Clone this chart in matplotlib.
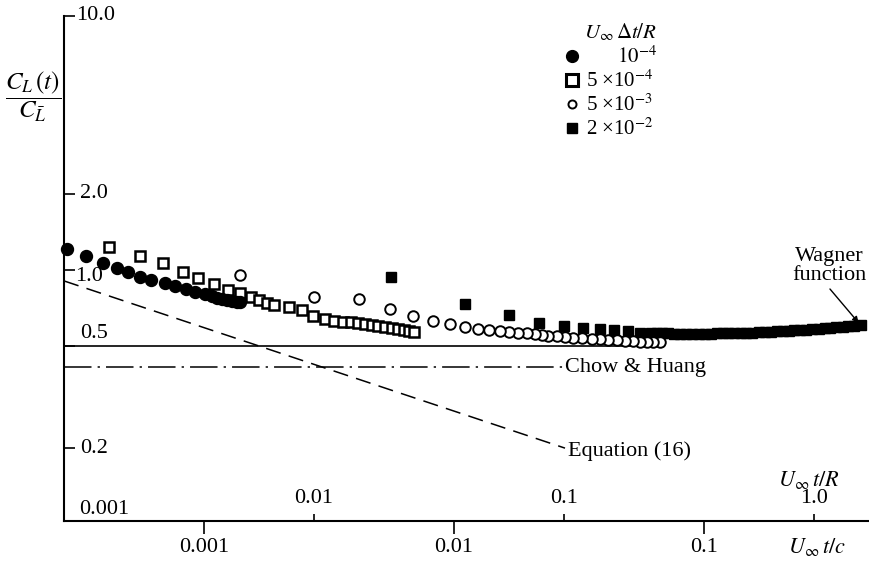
import matplotlib
matplotlib.use('Agg')
import matplotlib.pyplot as plt
from matplotlib.lines import Line2D
from matplotlib.ticker import NullLocator, FixedLocator, NullFormatter

plt.rcParams['font.family'] = ['Liberation Serif', 'DejaVu Serif']
plt.rcParams['mathtext.fontset'] = 'stix'

# ---------------- data (x = U t / c, y = C_L(t)/C_Lbar) ----------------
circ_f_x = [2.83e-4, 3.37e-4, 3.94e-4, 4.49e-4, 4.97e-4, 5.55e-4, 6.14e-4, 6.98e-4,
            7.66e-4, 8.47e-4, 9.20e-4, 1.009e-3, 1.076e-3, 1.127e-3, 1.18e-3,
            1.236e-3, 1.294e-3, 1.355e-3, 1.393e-3]
circ_f_y = [1.21, 1.135, 1.066, 1.018, 0.982, 0.939, 0.914, 0.889, 0.865, 0.842,
            0.819, 0.805, 0.791, 0.776, 0.769, 0.762, 0.755, 0.748, 0.748]

sq_o_x = [4.17e-4, 5.55e-4, 6.86e-4, 8.24e-4, 9.46e-4, 1.096e-3, 1.247e-3, 1.393e-3,
          1.542e-3, 1.660e-3, 1.786e-3, 1.905e-3, 2.188e-3, 2.466e-3, 2.729e-3,
          3.048e-3, 3.311e-3, 3.597e-3, 3.873e-3, 4.130e-3, 4.406e-3, 4.699e-3,
          4.966e-3, 5.297e-3, 5.649e-3, 5.970e-3, 6.310e-3, 6.607e-3, 6.918e-3]
sq_o_y = [1.233, 1.135, 1.066, 0.982, 0.930, 0.881, 0.834, 0.812, 0.783, 0.762,
          0.741, 0.728, 0.715, 0.696, 0.659, 0.641, 0.630, 0.624, 0.624, 0.618,
          0.613, 0.607, 0.602, 0.597, 0.591, 0.586, 0.581, 0.575, 0.570]

circ_o_x = [1.393e-3, 2.754e-3, 4.169e-3, 5.546e-3, 6.855e-3, 8.241e-3, 9.638e-3,
            1.107e-2, 1.247e-2, 1.380e-2, 1.528e-2, 1.660e-2, 1.803e-2, 1.959e-2,
            2.109e-2, 2.249e-2, 2.377e-2, 2.582e-2, 2.780e-2, 2.992e-2, 3.251e-2,
            3.565e-2, 3.837e-2, 4.130e-2, 4.487e-2, 4.831e-2, 5.200e-2, 5.546e-2,
            5.916e-2, 6.252e-2, 6.668e-2]
circ_o_y = [0.955, 0.783, 0.769, 0.702, 0.659, 0.630, 0.613, 0.597, 0.586, 0.581,
            0.575, 0.570, 0.565, 0.565, 0.560, 0.555, 0.550, 0.550, 0.545, 0.540,
            0.540, 0.535, 0.535, 0.530, 0.530, 0.525, 0.525, 0.521, 0.521, 0.521,
            0.521]

sq_f_x = [5.60e-3, 1.107e-2, 1.660e-2, 2.188e-2, 2.754e-2, 3.281e-2, 3.837e-2,
          4.365e-2, 4.966e-2, 5.546e-2,
          0.0611, 0.0646, 0.0682, 0.0721, 0.0762, 0.0805, 0.0851, 0.0899, 0.0951,
          0.1005, 0.1062, 0.1122, 0.1186, 0.1253, 0.1324, 0.1400, 0.1479, 0.1563,
          0.1652, 0.1746, 0.1845, 0.1950, 0.2061, 0.2178, 0.2301, 0.2432, 0.2570,
          0.2716, 0.2871, 0.3034, 0.3206, 0.3388, 0.3581, 0.3784, 0.3999, 0.4227]
sq_f_y = [0.939, 0.735, 0.665, 0.618, 0.602, 0.591, 0.586, 0.578, 0.573, 0.567,
          0.565, 0.565, 0.564, 0.563, 0.562, 0.562, 0.562, 0.562, 0.562, 0.562,
          0.562, 0.563, 0.563, 0.564, 0.564, 0.565, 0.566, 0.567, 0.568, 0.569,
          0.570, 0.573, 0.575, 0.577, 0.580, 0.581, 0.583, 0.585, 0.587, 0.590,
          0.591, 0.594, 0.597, 0.600, 0.604, 0.607]

legend_labels = ['      $10^{-4}$', '5 \u00d710$^{-4}$', '5 \u00d710$^{-3}$', '2 \u00d710$^{-2}$']

wagner_start = 0.5
wagner_line_end_x = 0.0667
chow_level = 0.415
chow_end_x = 0.0273
eq16_x = [2.754e-4, 0.0278]
eq16_y = [0.906, 0.199]

y_ticks = [0.2, 0.5, 1.0, 2.0, 10.0]
y_tick_labels = ['0.2', '0.5', '1.0', '2.0', '10.0']
xc_ticks = [0.001, 0.01, 0.1]
xc_tick_labels = ['0.001', '0.01', '0.1']
K_R_over_c = 3.63          # (U t/R) / (U t/c)
xr_ticks = [0.001, 0.01, 0.1, 1.0]
xr_tick_labels = ['0.001', '0.01', '0.1', '1.0']

x_min, x_max = 2.754e-4, 0.4613
y_min, y_max = 0.1028, 10.0

# ---------------- figure ----------------
W, H = 870, 562
fig = plt.figure(figsize=(W / 100, H / 100), dpi=100)
ax = fig.add_axes([64 / W, 41 / H, 806 / W, 505 / H])
ax.set_xscale('log')
ax.set_yscale('log')
ax.set_xlim(x_min, x_max)
ax.set_ylim(y_min, y_max)
for s in ['top', 'right']:
    ax.spines[s].set_visible(False)
ax.spines['left'].set_linewidth(1.5)
ax.spines['bottom'].set_linewidth(1.5)

# reference lines
ax.plot([x_min, wagner_line_end_x], [wagner_start, wagner_start], color='black', lw=1.2, zorder=2)
ax.plot([x_min, chow_end_x], [chow_level, chow_level], color='black', lw=1.1,
        linestyle=(0, (18, 4, 1.5, 4)), zorder=2)
ax.plot(eq16_x, eq16_y, color='black', lw=1.1, linestyle=(0, (10, 5.5)), zorder=2)

# data markers
ax.plot(circ_f_x, circ_f_y, ls='none', marker='o', ms=8.6, color='black', clip_on=False, zorder=4)
ax.plot(sq_o_x, sq_o_y, ls='none', marker='s', ms=7.4, mfc='white', mec='black', mew=1.8,
        zorder=3)
ax.plot(sq_f_x, sq_f_y, ls='none', marker='s', ms=7.6, color='black', zorder=3, clip_on=False)
ax.plot(circ_o_x[::-1], circ_o_y[::-1], ls='none', marker='o', ms=7.6, mfc='white',
        mec='black', mew=1.4, zorder=4)

# y axis ticks (inward, labels inside)
ax.yaxis.set_major_locator(FixedLocator(y_ticks))
ax.yaxis.set_minor_locator(NullLocator())
ax.yaxis.set_major_formatter(NullFormatter())
ax.tick_params(axis='y', direction='in', length=8, width=1.2)
ytr = ax.get_yaxis_transform()
y_label_offsets = {'0.2': (11.5, -1), '0.5': (11.5, 9), '1.0': (8, -5), '2.0': (11.5, 0),
                   '10.0': (9, 0)}
for v, lab in zip(y_ticks, y_tick_labels):
    dx, dy = y_label_offsets[lab]
    ax.annotate(lab, xy=(0, v), xycoords=ytr, xytext=(dx, dy), textcoords='offset points',
                ha='left', va='center', fontsize=16)

# bottom axis: U t / c
ax.xaxis.set_major_locator(FixedLocator(xc_ticks))
ax.xaxis.set_minor_locator(NullLocator())
ax.set_xticklabels(xc_tick_labels)
ax.tick_params(axis='x', direction='out', length=9, width=1.2, pad=3, labelsize=16)

# second scale: U t / R (ticks pointing up, labels above the axis)
sec = ax.secondary_xaxis('bottom', functions=(lambda x: x * K_R_over_c,
                                              lambda x: x / K_R_over_c))
sec.xaxis.set_major_locator(FixedLocator(xr_ticks[1:]))
sec.xaxis.set_minor_locator(NullLocator())
sec.tick_params(axis='x', direction='in', length=5, width=1.2, labelbottom=False)
sec.spines['bottom'].set_visible(False)
xtr = ax.get_xaxis_transform()
for v, lab in zip(xr_ticks, xr_tick_labels):
    if lab == '0.001':
        ax.annotate(lab, xy=(0, 0), xycoords='axes fraction', xytext=(11, 8),
                    textcoords='offset points', ha='left', va='center', fontsize=16)
    else:
        ax.annotate(lab, xy=(v / K_R_over_c, 0), xycoords=xtr, xytext=(0, 16),
                    textcoords='offset points', ha='center', va='center', fontsize=16)

fig.text(809 / W, 1 - 480 / H, r'$U_\infty\, t/R$', ha='center', va='center', fontsize=16)
fig.text(817 / W, 1 - 547 / H, r'$U_\infty\, t/c$', ha='center', va='center', fontsize=16)

# y label
fig.text(33 / W, 1 - 97 / H, r'$\dfrac{C_L\,(t)}{C_{\bar{L}}}$', ha='center', va='center',
         fontsize=18)

# line annotations
ax.annotate('Chow & Huang', xy=(chow_end_x, chow_level), xytext=(1.5, 0),
            textcoords='offset points', ha='left', va='center', fontsize=16)
ax.annotate('Equation (16)', xy=(eq16_x[-1], eq16_y[-1]), xytext=(2.5, -2),
            textcoords='offset points', ha='left', va='center', fontsize=16)
ax.annotate('', xy=(sq_f_x[-1], sq_f_y[-1]), xytext=(-22, 26), textcoords='offset points',
            xycoords='data', annotation_clip=False,
            arrowprops=dict(arrowstyle='-|>', color='black', lw=1.0, mutation_scale=9,
                            shrinkA=0, shrinkB=2))
fig.text(829 / W, 1 - 266 / H, 'Wagner\nfunction', ha='center', va='center', fontsize=16,
         linespacing=1.0)

# legend
handles = [Line2D([], [], ls='none', marker='o', ms=8.5, color='black'),
           Line2D([], [], ls='none', marker='s', ms=8, mfc='white', mec='black', mew=2.2),
           Line2D([], [], ls='none', marker='o', ms=5.8, mfc='white', mec='black', mew=1.4),
           Line2D([], [], ls='none', marker='s', ms=7, color='black')]
leg = ax.legend(handles, legend_labels, title=r'$U_\infty\,\Delta t/R$', loc='upper left',
                bbox_to_anchor=(566 / W, 1 - 22 / H), bbox_transform=fig.transFigure,
                frameon=False, fontsize=15, title_fontsize=15, handlelength=0.6,
                handletextpad=0.35, labelspacing=0.12, borderpad=0, borderaxespad=0,
                alignment='right')

fig.savefig('out.png', dpi=100)
